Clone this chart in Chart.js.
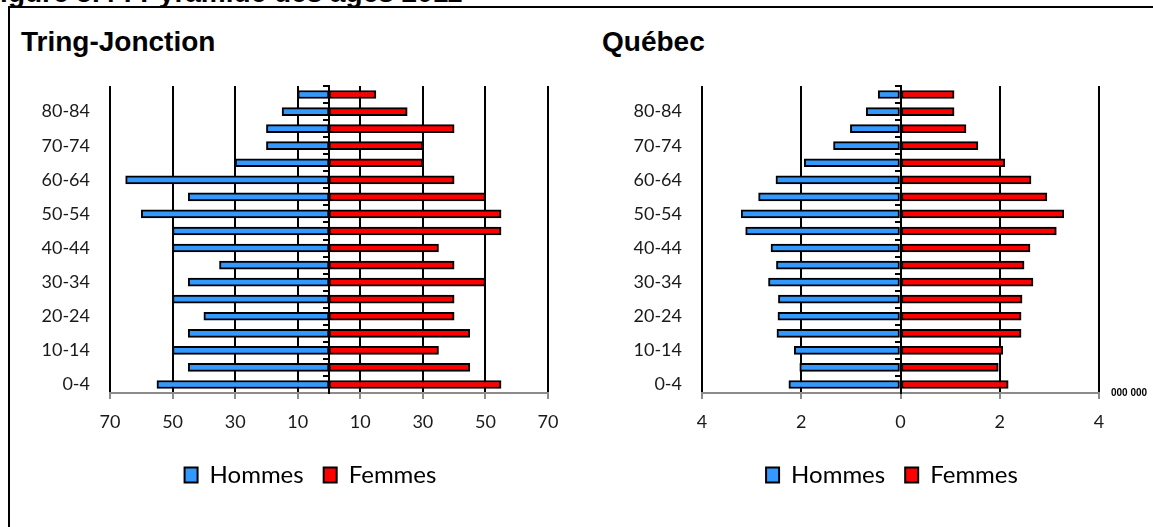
<!DOCTYPE html>
<html>
<head>
<meta charset="utf-8">
<script src="https://cdn.jsdelivr.net/npm/chart.js@4/dist/chart.umd.min.js"></script>
<style>
html, body { margin: 0; padding: 0; width: 1153px; height: 527px; overflow: hidden; background: #fff; }
#fig { position: absolute; left: -17px; top: -21px; font: bold 28px "Liberation Sans", Arial, sans-serif; line-height: 28px; white-space: nowrap; }
#frame { position: absolute; left: 8px; top: 6px; width: 1200px; height: 600px; border: 2px solid #000; }
.ttl { position: absolute; top: 28px; font: bold 28px "Liberation Sans", Arial, sans-serif; line-height: 28px; color: #000; white-space: nowrap; }
.wrap { position: absolute; top: 70px; }
#unit { position: absolute; left: 1111px; top: 387px; font: bold 10px "Liberation Sans", Arial, sans-serif; line-height: 12px; color: #000; white-space: nowrap; }
</style>
</head>
<body>
<div id="fig">Figure 5.4 : Pyramide des âges 2011</div>
<div id="frame"></div>
<div class="ttl" style="left:21px">Tring-Jonction</div>
<div class="ttl" style="left:602px">Québec</div>
<div class="wrap" style="left:0px"><canvas id="chartA" width="621" height="427"></canvas></div>
<div class="wrap" style="left:631px"><canvas id="chartB" width="522" height="427"></canvas></div>
<div id="unit">000 000</div>

<script>
var ageGroups = ['0-4', '5-9', '10-14', '15-19', '20-24', '25-29', '30-34', '35-39', '40-44',
                 '45-49', '50-54', '55-59', '60-64', '65-69', '70-74', '75-79', '80-84', '85+'];

// Tring-Jonction, people per age group
var tringHommes = [55, 45, 50, 45, 40, 50, 45, 35, 50, 50, 60, 45, 65, 30, 20, 20, 15, 10];
var tringFemmes = [55, 45, 35, 45, 40, 40, 50, 40, 35, 55, 55, 50, 40, 30, 30, 40, 25, 15];

// Québec, in hundreds of thousands
var quebecHommes = [2.25, 2.03, 2.14, 2.49, 2.47, 2.46, 2.66, 2.50, 2.61, 3.12, 3.21, 2.86, 2.51, 1.94, 1.35, 1.01, 0.69, 0.45];
var quebecFemmes = [2.17, 1.97, 2.06, 2.43, 2.43, 2.45, 2.67, 2.49, 2.61, 3.14, 3.29, 2.95, 2.63, 2.10, 1.56, 1.32, 1.08, 1.08];

var seriesNames = ['Hommes', 'Femmes'];
var tickFont = { family: 'Lato', size: 18 };

function makePyramid(canvasId, hommes, femmes, xMax, xStep, labelWidth, rightSpace) {
    var ctx = document.getElementById(canvasId).getContext('2d');
    return new Chart(ctx, {
        type: 'bar',
        data: {
            labels: ageGroups,
            datasets: [
                {
                    label: seriesNames[0],
                    data: hommes.map(function(v) { return -v; }),
                    backgroundColor: '#3399FF',
                    borderColor: '#000',
                    borderWidth: 2,
                    borderSkipped: false,
                    barThickness: 8
                },
                {
                    label: seriesNames[1],
                    data: femmes,
                    backgroundColor: '#FF0000',
                    borderColor: '#000',
                    borderWidth: 2,
                    borderSkipped: false,
                    barThickness: 8
                }
            ]
        },
        options: {
            indexAxis: 'y',
            responsive: false,
            animation: false,
            layout: { padding: { left: 0, right: 0, top: 16, bottom: 0 } },
            scales: {
                x: {
                    stacked: true,
                    min: -xMax,
                    max: xMax,
                    ticks: {
                        stepSize: xStep,
                        padding: 12,
                        color: '#1a1a1a',
                        font: tickFont,
                        maxRotation: 0,
                        callback: function(value) { return Math.abs(value); }
                    },
                    grid: { color: '#000', lineWidth: 2, tickColor: '#8c8c8c', tickLength: 6 },
                    border: { display: true, color: '#8c8c8c', width: 2 },
                    afterFit: function(scale) { scale.height = 50; }
                },
                y: {
                    stacked: true,
                    reverse: true,
                    ticks: {
                        autoSkip: false,
                        padding: 20,
                        color: '#1a1a1a',
                        font: tickFont,
                        callback: function(value, index) { return index % 2 === 0 ? ageGroups[index] : ''; }
                    },
                    grid: { display: false, drawTicks: false },
                    border: { display: false },
                    afterFit: function(scale) {
                        scale.width = labelWidth;
                        scale.paddingTop = 0;
                        scale.paddingBottom = 0;
                    }
                },
                yMid: {
                    type: 'category',
                    axis: 'y',
                    reverse: true,
                    offset: true,
                    position: { x: 0 },
                    ticks: { display: false },
                    grid: { offset: true, drawOnChartArea: false, drawTicks: true, tickLength: 5, color: '#000', lineWidth: 2 },
                    border: { display: true, color: '#000', width: 2 }
                },
                // empty room on the right so the legend sits where Excel put it
                yRight: {
                    type: 'linear',
                    axis: 'y',
                    position: 'right',
                    ticks: { display: false },
                    grid: { display: false, drawTicks: false },
                    border: { display: false },
                    afterFit: function(scale) { scale.width = rightSpace; }
                }
            },
            plugins: {
                legend: {
                    position: 'bottom',
                    labels: {
                        boxWidth: 13,
                        boxHeight: 15,
                        padding: 20,
                        color: '#000',
                        font: { family: 'Lato', size: 24 }
                    }
                },
                tooltip: { enabled: false }
            }
        }
    });
}

var chartA = makePyramid('chartA', tringHommes, tringFemmes, 70, 20, 110, 73);
var chartB = makePyramid('chartB', quebecHommes, quebecFemmes, 4, 2, 71, 54);
</script>
</body>
</html>
